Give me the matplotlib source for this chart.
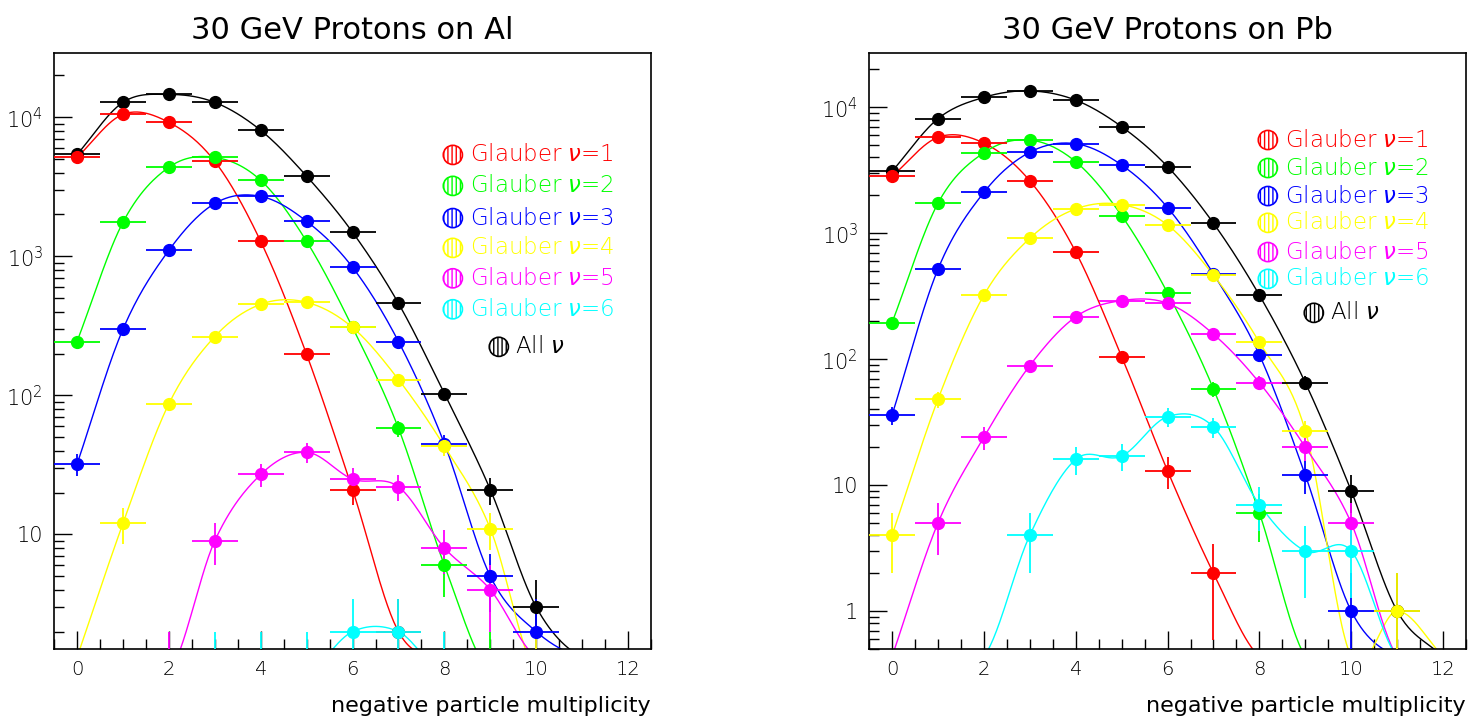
import numpy as np
import matplotlib.pyplot as plt
from matplotlib.ticker import FixedLocator, FixedFormatter, MultipleLocator, NullFormatter

plt.rcParams['font.family'] = ['DejaVu Sans']
plt.rcParams['font.weight'] = 'light'
plt.rcParams['mathtext.fontset'] = 'dejavusans'

mult = np.arange(13)

# counts per negative-multiplicity bin, 0 = empty bin
al_all = [5400, 12800, 14600, 12800, 8060, 3770, 1490, 459, 103, 21, 3, 0, 0]
al_nu1 = [5150, 10500, 9200, 4820, 1280, 197, 21, 2, 0, 0, 0, 0, 0]
al_nu2 = [244, 1757, 4370, 5150, 3520, 1280, 308, 58, 6, 1, 0, 0, 0]
al_nu3 = [32, 299, 1105, 2400, 2700, 1786, 834, 244, 45, 5, 2, 0, 0]
al_nu4 = [0, 12, 87, 265, 452, 467, 308, 130, 43, 11, 1, 0, 0]
al_nu5 = [0, 0, 1, 9, 27, 39, 25, 22, 8, 4, 0, 0, 0]
al_nu6 = [0, 0, 0, 1, 1, 1, 2, 2, 1, 0, 0, 0, 0]

pb_all = [3100, 8120, 12000, 13500, 11400, 7020, 3380, 1200, 322, 65, 9, 1, 0]
pb_nu1 = [2830, 5780, 5200, 2610, 711, 105, 13, 2, 0, 0, 0, 0, 0]
pb_nu2 = [195, 1730, 4360, 5500, 3700, 1380, 336, 58, 6, 0, 0, 0, 0]
pb_nu3 = [36, 518, 2110, 4400, 5140, 3480, 1600, 475, 108, 12, 1, 0, 0]
pb_nu4 = [4, 48, 322, 912, 1560, 1690, 1164, 464, 136, 27, 0, 1, 0]
pb_nu5 = [0, 5, 24, 89, 217, 292, 278, 158, 65, 20, 5, 0, 0]
pb_nu6 = [0, 0, 0, 4, 16, 17, 35, 29, 7, 3, 3, 0, 0]

colors = ['black', '#ff0000', '#00ff00', '#0000ff', '#ffff00', '#ff00ff', '#00ffff']
labels = ['All $\\nu$'] + ['Glauber $\\nu$=%d' % i for i in range(1, 7)]


def smooth(x, y, floor):
    # smooth curve through the points, done in log space (zero bins sit just under the floor)
    ly = np.log10(np.where(y > 0, y, floor / 1.15))
    m = np.gradient(ly, x)
    t = np.linspace(0, 1, 30)
    h00 = 2 * t**3 - 3 * t**2 + 1
    h10 = t**3 - 2 * t**2 + t
    h01 = -2 * t**3 + 3 * t**2
    h11 = t**3 - t**2
    xs, ys = [], []
    for i in range(len(x) - 1):
        d = x[i + 1] - x[i]
        xs.append(x[i] + d * t)
        ys.append(h00 * ly[i] + h10 * d * m[i] + h01 * ly[i + 1] + h11 * d * m[i + 1])
    return np.concatenate(xs), 10 ** np.concatenate(ys)


def draw_panel(ax, series, ylim, title, ylabels, leg_y, all_y):
    x = mult.astype(float)
    for vals, col in zip(series, colors):
        y = np.array(vals, dtype=float)
        cx, cy = smooth(x, y, ylim[0])
        ax.plot(cx, cy, color=col, lw=1.0, zorder=2)
        ok = y > 0
        yo = y[ok]
        lo = yo - np.maximum(yo - np.sqrt(yo), 1e-3)
        hi = np.sqrt(yo)
        ax.errorbar(x[ok], yo, xerr=0.5, yerr=[lo, hi], fmt='o', color=col,
                    ms=8.5, mec=col, elinewidth=1.3, capsize=0, zorder=3)

    ax.set_yscale('log')
    ax.set_xlim(-0.5, 12.5)
    ax.set_ylim(*ylim)
    ax.xaxis.set_major_locator(MultipleLocator(2))
    ax.xaxis.set_minor_locator(MultipleLocator(0.5))
    decades = [10.0 ** k for k in range(4, 4 - len(ylabels), -1)]
    ax.yaxis.set_major_locator(FixedLocator(decades))
    ax.yaxis.set_major_formatter(FixedFormatter(ylabels))
    minors = [m * 10.0 ** k for k in range(-1, 5) for m in range(2, 10)]
    ax.yaxis.set_minor_locator(FixedLocator(minors))
    ax.yaxis.set_minor_formatter(NullFormatter())
    ax.tick_params(which='both', direction='in', top=False, right=False,
                   colors='black', width=1.0)
    ax.tick_params(axis='x', which='major', length=13, pad=8, labelsize=14)
    ax.tick_params(axis='y', which='major', length=13, pad=8, labelsize=15)
    ax.tick_params(which='minor', length=7)
    for s in ax.spines.values():
        s.set_linewidth(1.2)

    ax.set_title(title, fontsize=22, pad=10)
    ax.set_xlabel('negative particle multiplicity', fontsize=16, loc='right', labelpad=12)

    # legend drawn by hand, ROOT style
    for k in range(1, 7):
        ax.scatter([0.668], [leg_y[k - 1]], s=190, transform=ax.transAxes, marker='o',
                   facecolor='white', edgecolor=colors[k], hatch='||||', lw=1.2,
                   clip_on=False, zorder=5)
        ax.text(0.697, leg_y[k - 1], labels[k], color=colors[k], fontsize=16.5,
                transform=ax.transAxes, va='center', ha='left')
    ax.scatter([0.745], [all_y], s=190, transform=ax.transAxes, marker='o',
               facecolor='white', edgecolor='black', hatch='||||', lw=1.2,
               clip_on=False, zorder=5)
    ax.text(0.772, all_y, labels[0], color='black', fontsize=16.5,
            transform=ax.transAxes, va='center', ha='left')


fig = plt.figure(figsize=(14.69, 7.2), dpi=100)
ax1 = fig.add_axes([0.0368, 0.0986, 0.4064, 0.8278])
ax2 = fig.add_axes([0.5916, 0.0986, 0.4064, 0.8278])

draw_panel(ax1, [al_all, al_nu1, al_nu2, al_nu3, al_nu4, al_nu5, al_nu6],
           (1.5, 2.9e4), '30 GeV Protons on Al',
           ['$10^{4}$', '$10^{3}$', '$10^{2}$', '10'],
           [0.829, 0.777, 0.723, 0.673, 0.622, 0.570], 0.507)
draw_panel(ax2, [pb_all, pb_nu1, pb_nu2, pb_nu3, pb_nu4, pb_nu5, pb_nu6],
           (0.5, 2.7e4), '30 GeV Protons on Pb',
           ['$10^{4}$', '$10^{3}$', '$10^{2}$', '10', '1'],
           [0.854, 0.807, 0.760, 0.715, 0.666, 0.621], 0.564)

fig.savefig('out.png', dpi=100)
